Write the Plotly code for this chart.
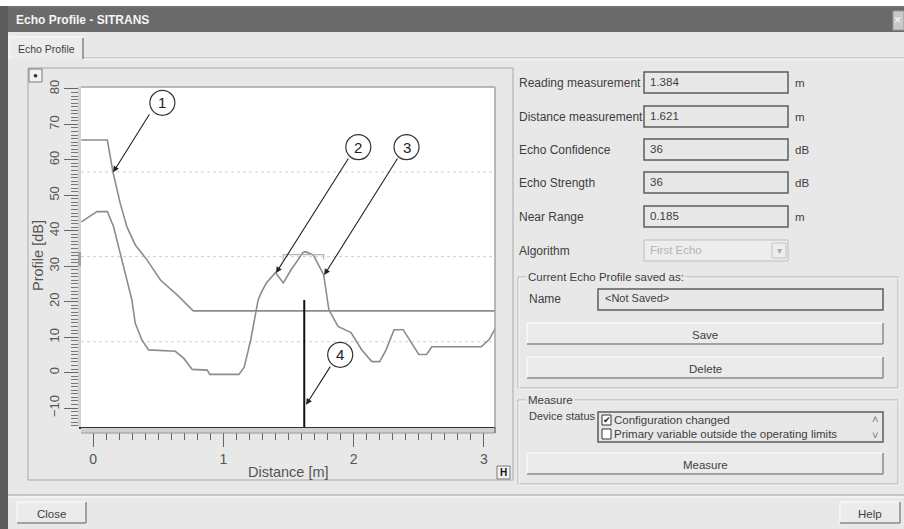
import plotly.graph_objects as go

# ---------------- data ----------------
echo_x = [-0.09, 0.03, 0.11, 0.157, 0.208, 0.26, 0.298, 0.324, 0.375, 0.426, 0.632, 0.697,
          0.761, 0.876, 0.896, 1.12, 1.16, 1.21, 1.267, 1.29, 1.33, 1.40, 1.46, 1.52, 1.56,
          1.61, 1.63, 1.69, 1.71, 1.77, 1.81, 1.88, 1.98, 2.06, 2.14, 2.20, 2.25, 2.31, 2.38,
          2.43, 2.50, 2.56, 2.60, 2.98, 3.04, 3.087]
echo_y = [42.5, 45.4, 45.4, 41.2, 33.7, 26.1, 20.5, 13.9, 9.2, 6.4, 6.0, 4.0,
          0.9, 0.7, -0.5, -0.5, 1.5, 9.2, 20.5, 22.5, 25.3, 28.2, 25.3, 29.0, 31.0,
          33.8, 34.1, 33.2, 31.8, 27.6, 17.7, 13.0, 11.3, 6.5, 3.1, 3.1, 6.5, 12.1, 12.1,
          9.3, 5.1, 5.1, 7.3, 7.3, 9.3, 12.5]
tvt_x = [-0.09, 0.11, 0.152, 0.208, 0.26, 0.324, 0.414, 0.517, 0.645, 0.769, 3.087]
tvt_y = [65.6, 65.6, 56.7, 47.8, 41.1, 36.0, 31.8, 26.1, 21.9, 17.4, 17.4]
bracket_x = [1.46, 1.46, 1.77, 1.77]
bracket_y = [31.9, 33.3, 33.3, 31.9]
marker_distance = 1.621
marker_top = 20.5
grid_levels = [56.6, 32.7, 8.7]
x_range = [-0.0925, 3.085]
y_range = [-15.35, 80.56]

callout_labels = ["1", "2", "3", "4"]
callout_cx = [0.532, 2.036, 2.406, 1.897]
callout_cy = [76.1, 63.6, 63.6, 5.0]
tip_x = [0.154, 1.404, 1.774, 1.635]
tip_y = [56.5, 28.1, 27.5, -9.1]
tail_x = [0.44, 1.967, 2.344, 1.828]
tail_y = [73.3, 60.8, 60.8, 2.1]

field_labels = ["Reading measurement", "Distance measurement", "Echo Confidence",
                "Echo Strength", "Near Range"]
field_values = ["1.384", "1.621", "36", "36", "0.185"]
field_units = ["m", "m", "dB", "dB", "m"]
status_items = ["Configuration changed", "Primary variable outside the operating limits"]
status_checked = [True, False]

# ---------------- helpers (pixel -> paper) ----------------
W, H = 904, 529
L, R, T, B = 81, 495, 87, 427


def px(x):
    return (x - L) / (R - L)


def py(y):
    return (B - y) / (B - T)


FONT = "Liberation Sans, Arial, sans-serif"
TXT = "#3e3e3e"
BG = "#e8e8e8"
shapes = []
annos = []


def rect(x0, y0, x1, y1, fill=None, line=None, lw=1, layer="above"):
    shapes.append(dict(type="rect", xref="paper", yref="paper",
                       x0=px(x0), x1=px(x1), y0=py(y1), y1=py(y0),
                       fillcolor=fill if fill else "rgba(0,0,0,0)",
                       line=dict(color=line if line else "rgba(0,0,0,0)", width=lw if line else 0),
                       layer=layer))


def seg(x0, y0, x1, y1, color, lw=1, layer="above", dash=None):
    d = dict(color=color, width=lw)
    if dash:
        d["dash"] = dash
    shapes.append(dict(type="line", xref="paper", yref="paper",
                       x0=px(x0), x1=px(x1), y0=py(y0), y1=py(y1), line=d, layer=layer))


def text(x, y, s, size=12, color=TXT, xanchor="left", angle=0, bg=None, bold=False):
    a = dict(x=px(x), y=py(y), xref="paper", yref="paper", text=("<b>%s</b>" % s) if bold else s,
             showarrow=False, xanchor=xanchor, yanchor="middle", textangle=angle,
             font=dict(family=FONT, size=size, color=color))
    if bg:
        a["bgcolor"] = bg
        a["borderpad"] = 1
    annos.append(a)


def button(x0, y0, x1, y1, label, size=11.5):
    rect(x0, y0, x1, y1, fill="#ebebeb")
    seg(x0, y0, x1, y0, "#ffffff", 1)
    seg(x0, y0, x0, y1, "#ffffff", 1)
    seg(x0, y1, x1, y1, "#8a8a8a", 1.5)
    seg(x1, y0, x1, y1, "#8a8a8a", 1.5)
    text((x0 + x1) / 2, (y0 + y1) / 2 + 1, label, size=size, xanchor="center")


def sunken(x0, y0, x1, y1, fill=BG):
    rect(x0, y0, x1, y1, fill=fill, line="#5c5c5c", lw=1.5)


def group(x0, y0, x1, y1, label):
    rect(x0, y0, x1, y1, line="#b0b0b0", lw=1)
    rect(x0 + 1, y0 + 1, x1 + 1, y1 + 1, line="#fafafa", lw=0.8)
    text(x0 + 8, y0, label, size=11.5, bg=BG)


# ---------------- window chrome ----------------
rect(0, 0, 904, 6, fill="#ffffff")
rect(0, 6, 8, 529, fill="#5c5c5c")
rect(8, 6, 904, 32, fill="#6a6a6a")
seg(8, 7, 904, 7, "#7d7d7d", 1)
text(14, 20, "Echo Profile - SITRANS", size=12, color="#f4f4f4", bold=True)
rect(893, 11, 904, 30, fill="#c9c9c9", line="#9a9a9a")
text(897, 20, "×", size=12, color="#ffffff", xanchor="center")

# tab
seg(83, 58, 904, 58, "#b0b0b0", 1)
seg(83, 59, 904, 59, "#fbfbfb", 1)
rect(9, 37, 83, 59, fill="#ececec")
seg(9, 37, 83, 37, "#fbfbfb", 1)
seg(9, 37, 9, 59, "#fbfbfb", 1)
seg(83, 38, 83, 59, "#6a6a6a", 1.2)
text(46, 49, "Echo Profile", size=10.5, xanchor="center")

# chart group box
rect(28, 68, 513, 480, line="#a8a8a8", lw=1)
rect(29, 69, 42, 82, fill="#f2f2f2", line="#7a7a7a", lw=1)
text(35.5, 75.5, "●", size=8, color="#333333", xanchor="center")
rect(497, 466, 510, 479, fill="#f2f2f2", line="#7a7a7a", lw=1)
text(503.5, 472.5, "H", size=10, color="#111111", xanchor="center", bold=True)

# rulers (above ticks)
rect(78, 87, 81, 427, fill="#d2d2d2")
rect(78, 252, 81, 266, fill="#a0a0a0")
rect(81, 428, 495, 433, fill="#cfcfcf")
seg(81, 433, 495, 433, "#9a9a9a", 1)
seg(495, 427, 495, 433, "#777777", 1.5)

# plot border top/right
seg(81, 87, 495, 87, "#a5a5a5", 1.5)
seg(495, 87, 495, 427, "#a5a5a5", 1.5)

# axis titles
text(288, 472, "Distance [m]", size=14.5, color="#555555", xanchor="center")
text(38, 256, "Profile [dB]", size=14.5, color="#555555", xanchor="center", angle=-90)

# ---------------- right panel ----------------
row_y = [83, 117, 150, 183, 217]
for lab, val, unit, yy in zip(field_labels, field_values, field_units, row_y):
    text(517, yy, lab, size=12)
    sunken(644, yy - 11, 788, yy + 10)
    text(648, yy - 1, val, size=11.5)
    text(793, yy, unit, size=11.5)

text(517, 251, "Algorithm", size=12)
rect(644, 240, 788, 261, fill="#ededed", line="#bdbdbd", lw=1)
text(648, 250, "First Echo", size=11.5, color="#b4b4b4")
rect(772, 243, 786, 258, fill="#ededed", line="#c4c4c4", lw=1)
text(779, 250, "▾", size=10, color="#a8a8a8", xanchor="center")

group(518, 277, 898, 388, "Current Echo Profile saved as:")
text(527, 299, "Name", size=12)
sunken(598, 289, 883, 310)
text(603, 298, "&lt;Not Saved&gt;", size=11)
button(527, 323, 883, 344, "Save")
button(527, 357, 883, 378, "Delete")

group(518, 400, 898, 484, "Measure")
text(527, 416, "Device status", size=11)
sunken(598, 412, 883, 442)
for i, (item, chk) in enumerate(zip(status_items, status_checked)):
    yy = 420 + 14 * i
    rect(602, yy - 5, 611, yy + 5, fill="#ffffff", line="#333333", lw=1)
    if chk:
        text(606.5, yy, "✔", size=9, color="#222222", xanchor="center")
    text(612, yy, item, size=11.5)
text(875, 419, "˄", size=11, color="#777777", xanchor="center")
text(875, 435, "˅", size=11, color="#777777", xanchor="center")
button(527, 453, 883, 474, "Measure")

# bottom
seg(8, 495, 904, 495, "#a0a0a0", 1.2)
seg(8, 497, 904, 497, "#fbfbfb", 1)
button(17, 502, 86, 523, "Close")
button(840, 502, 900, 523, "Help")

# ---------------- chart ----------------
for g in grid_levels:
    shapes.append(dict(type="line", xref="paper", yref="y", x0=0, x1=1, y0=g, y1=g,
                       line=dict(color="#cfcfcf", width=1, dash="dot"), layer="below"))

fig = go.Figure()
fig.add_trace(go.Scatter(x=tvt_x, y=tvt_y, mode="lines",
                         line=dict(color="#8c8c8c", width=1.6), hoverinfo="skip"))
fig.add_trace(go.Scatter(x=echo_x, y=echo_y, mode="lines",
                         line=dict(color="#8c8c8c", width=1.6), hoverinfo="skip"))
fig.add_trace(go.Scatter(x=bracket_x, y=bracket_y, mode="lines",
                         line=dict(color="#b4b4b4", width=1.2), hoverinfo="skip"))
fig.add_trace(go.Scatter(x=[marker_distance, marker_distance], y=[y_range[0], marker_top],
                         mode="lines", line=dict(color="#111111", width=2), hoverinfo="skip"))

for lab, cx, cy, tx, ty, ax, ay in zip(callout_labels, callout_cx, callout_cy,
                                        tip_x, tip_y, tail_x, tail_y):
    annos.append(dict(x=tx, y=ty, xref="x", yref="y", ax=ax, ay=ay, axref="x", ayref="y",
                      showarrow=True, arrowhead=2, arrowsize=1.1, arrowwidth=1.1,
                      arrowcolor="#222222", text=""))
    shapes.append(dict(type="circle", xref="x", yref="y", xsizemode="pixel", ysizemode="pixel",
                       xanchor=cx, yanchor=cy, x0=-12.5, x1=12.5, y0=-12.5, y1=12.5,
                       fillcolor="#ffffff", line=dict(color="#333333", width=1.2), layer="above"))
    annos.append(dict(x=cx, y=cy, xref="x", yref="y", text=lab, showarrow=False,
                      xanchor="center", yanchor="middle",
                      font=dict(family=FONT, size=15, color="#222222")))

fig.update_layout(
    width=W, height=H, autosize=False,
    margin=dict(l=L, r=W - R, t=T, b=H - B, pad=0, autoexpand=False),
    paper_bgcolor=BG, plot_bgcolor="#ffffff",
    showlegend=False,
    shapes=shapes, annotations=annos,
    xaxis=dict(range=x_range, tickmode="linear", tick0=0, dtick=1, automargin=False,
               ticks="outside", ticklen=18, tickwidth=1.4, tickcolor="#666666",
               minor=dict(dtick=0.1, tick0=0, ticks="outside", ticklen=11, tickwidth=1.2,
                          tickcolor="#666666", showgrid=False),
               showgrid=False, zeroline=False, showline=True, linecolor="#333333", linewidth=2,
               tickfont=dict(family=FONT, size=14, color="#555555"), fixedrange=True),
    yaxis=dict(range=y_range, tickmode="linear", tick0=0, dtick=10, tickangle=-90,
               automargin=False,
               ticks="outside", ticklen=15, tickwidth=1.4, tickcolor="#666666",
               minor=dict(dtick=1, tick0=0, ticks="outside", ticklen=8, tickwidth=1,
                          tickcolor="#777777", showgrid=False),
               showgrid=False, zeroline=False, showline=True, linecolor="#333333", linewidth=2,
               tickfont=dict(family=FONT, size=13, color="#555555"), fixedrange=True),
)

fig.write_html("out.html", config={"displayModeBar": False},
               post_script="document.body.style.margin='0';document.body.style.padding='0';"
                           "document.body.style.overflow='hidden';")
